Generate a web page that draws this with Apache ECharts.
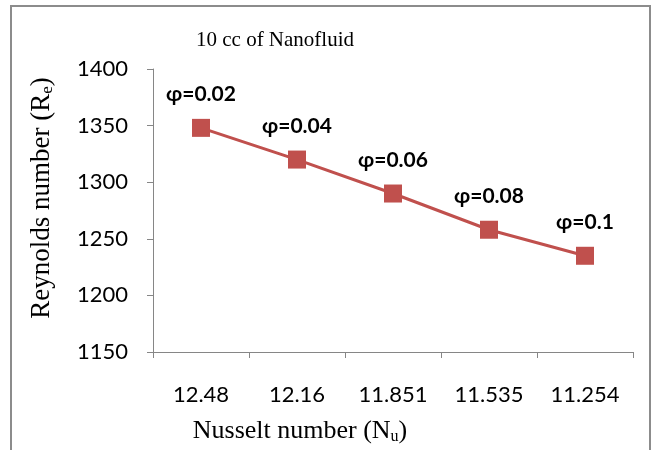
<!DOCTYPE html>
<html>
<head>
<meta charset="utf-8">
<script src="https://cdn.jsdelivr.net/npm/echarts@6/dist/echarts.min.js"></script>
<style>html,body{margin:0;padding:0;background:#fff;}#c{width:654px;height:450px;}</style>
</head>
<body>
<div id="c"></div>
<script>
var categories = ['12.48', '12.16', '11.851', '11.535', '11.254'];
var reynolds = [1348, 1320, 1290, 1258, 1235];
var pointLabels = ['φ=0.02', 'φ=0.04', 'φ=0.06', 'φ=0.08', 'φ=0.1'];
var yTicks = { min: 1150, max: 1400, interval: 50 };

var chart = echarts.init(document.getElementById('c'), null, { renderer: 'canvas' });
var axisColor = '#868686';
var tickFont = 'Lato, "Liberation Sans", sans-serif';
var serif = '"Liberation Serif", "DejaVu Serif", serif';
chart.setOption({
  animation: false,
  backgroundColor: '#fff',
  grid: { left: 153, right: 21, top: 69, bottom: 98, containLabel: false },
  xAxis: {
    type: 'category',
    data: categories,
    boundaryGap: true,
    axisLine: { lineStyle: { color: axisColor, width: 1 } },
    axisTick: { show: true, length: 6, lineStyle: { color: axisColor } },
    axisLabel: { color: '#000', fontSize: 22, fontFamily: tickFont, margin: 32 },
    splitLine: { show: false }
  },
  yAxis: {
    type: 'value',
    min: yTicks.min, max: yTicks.max, interval: yTicks.interval,
    axisLine: { show: true, lineStyle: { color: axisColor, width: 1 } },
    axisTick: { show: true, length: 6, lineStyle: { color: axisColor } },
    axisLabel: { color: '#000', fontSize: 22, fontFamily: tickFont, margin: 25,
      formatter: function (v) { return String(v); } },
    splitLine: { show: false }
  },
  series: [{
    type: 'line',
    data: reynolds,
    symbol: 'rect',
    symbolSize: 18,
    itemStyle: { color: '#c0504d' },
    lineStyle: { color: '#c0504d', width: 3 },
    label: {
      show: true,
      position: 'top',
      distance: 14,
      formatter: function (p) { return pointLabels[p.dataIndex]; },
      color: '#000',
      fontSize: 21,
      fontWeight: 'bold',
      fontFamily: tickFont
    }
  }],
  graphic: [
    { type: 'rect', shape: { x: 11, y: 6, width: 639, height: 460 }, style: { fill: 'none', stroke: '#8c8c8c', lineWidth: 2 }, silent: true },
    { type: 'text', x: 275, y: 40, style: { text: '10 cc of Nanofluid', font: '21px ' + serif, fill: '#000', textAlign: 'center', textVerticalAlign: 'middle' } },
    { type: 'text', x: 300, y: 431, style: {
        text: 'Nusselt number (N{sub|u})', fill: '#000', textAlign: 'center', textVerticalAlign: 'middle',
        fontSize: 26, fontFamily: serif,
        rich: { sub: { fontSize: 16, fontFamily: serif, padding: [12, 0, 0, 0] } } } },
    { type: 'text', x: 42, y: 198, rotation: Math.PI / 2, style: {
        text: 'Reynolds number (R{sub|e})', fill: '#000', textAlign: 'center', textVerticalAlign: 'middle',
        fontSize: 27, fontFamily: serif,
        rich: { sub: { fontSize: 17, fontFamily: serif, padding: [12, 0, 0, 0] } } } }
  ]
});
</script>
</body>
</html>
